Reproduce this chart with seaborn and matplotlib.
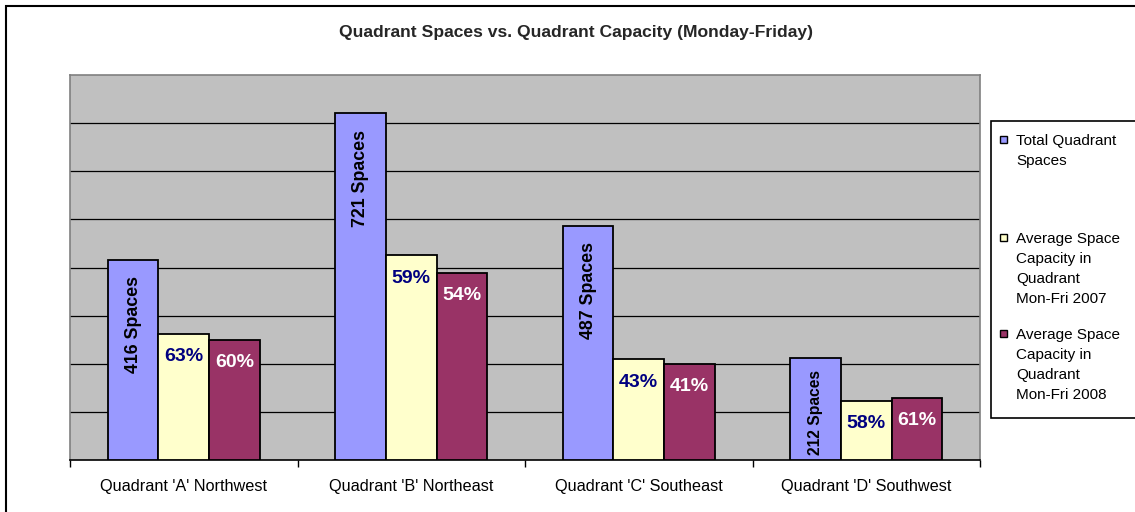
import numpy as np
import pandas as pd
import matplotlib.pyplot as plt
import seaborn as sns
from matplotlib.patches import Rectangle

sns.set_theme(style="white")
plt.rcParams["font.family"] = ["Liberation Sans", "DejaVu Sans"]

# -----------------------------
# Data
# -----------------------------
quadrants = ["Quadrant 'A' Northwest", "Quadrant 'B' Northeast",
             "Quadrant 'C' Southeast", "Quadrant 'D' Southwest"]
series = ["Total Quadrant Spaces",
          "Average Space Capacity in Quadrant Mon-Fri 2007",
          "Average Space Capacity in Quadrant Mon-Fri 2008"]
legend_labels = ["Total Quadrant\nSpaces",
                 "Average Space\nCapacity in\nQuadrant\nMon-Fri 2007",
                 "Average Space\nCapacity in\nQuadrant\nMon-Fri 2008"]
total_spaces = [416, 721, 487, 212]
used_2007 = [262, 425, 209, 123]
used_2008 = [250, 389, 200, 129]
pct_2007 = ["63%", "59%", "43%", "58%"]
pct_2008 = ["60%", "54%", "41%", "61%"]

colors = ["#9999FF", "#FFFFCC", "#993366"]

df = pd.DataFrame({
    "Quadrant": quadrants * 3,
    "Series": np.repeat(series, len(quadrants)),
    "Value": total_spaces + used_2007 + used_2008,
})

W, H = 1135, 512
fig = plt.figure(figsize=(W / 100, H / 100), dpi=100)
ax = fig.add_axes([70 / W, 1 - 460 / H, 910 / W, 385 / H])

sns.barplot(data=df, x="Quadrant", y="Value", hue="Series", order=quadrants,
            hue_order=series, palette=colors, saturation=1, width=0.667,
            errorbar=None, edgecolor="black", linewidth=1.3, legend=False,
            ax=ax, zorder=3)

ax.set_facecolor("#C0C0C0")
ax.set_ylim(0, 800)
ax.set_xlim(-0.5, 3.5)
ax.set_yticks(np.arange(100, 800, 100))
ax.set_yticklabels([])
ax.tick_params(axis="y", length=0)
ax.yaxis.grid(True, color="black", lw=0.9, zorder=0)
ax.xaxis.grid(False)
ax.set_axisbelow(True)
ax.set_xlabel("")
ax.set_ylabel("")

ax.set_xticks(range(4))
ax.set_xticklabels(quadrants, fontsize=11.7, color="black")
ax.set_xticks(np.arange(-0.5, 4, 1), minor=True)
ax.tick_params(axis="x", which="major", length=0, pad=14)
ax.tick_params(axis="x", which="minor", length=5, width=1, color="black",
               direction="out", bottom=True)

for side in ["left", "top", "right"]:
    ax.spines[side].set_color("#808080")
    ax.spines[side].set_linewidth(1.2)
ax.spines["bottom"].set_color("black")
ax.spines["bottom"].set_linewidth(1.2)

# bar labels; a label too long for its bar is shrunk to fit inside
px_per_unit = 385 / 800
for bar, txt in zip(ax.containers[0], total_spaces):
    x = bar.get_x() + bar.get_width() / 2
    bar_px = bar.get_height() * px_per_unit
    fs = min(12.8, (bar_px - 16) / 7.66)
    off = 12 if fs >= 12.8 else 8.6
    ax.annotate(f"{txt} Spaces", (x, bar.get_height()), xytext=(0, -off),
                textcoords="offset points", rotation=90, ha="center", va="top",
                fontsize=fs, fontweight="bold", color="black", zorder=5)
for cont, labels, col in [(ax.containers[1], pct_2007, "#000080"),
                          (ax.containers[2], pct_2008, "white")]:
    for bar, txt in zip(cont, labels):
        x = bar.get_x() + bar.get_width() / 2
        ax.annotate(txt, (x, bar.get_height()), xytext=(0, -16.5),
                    textcoords="offset points", ha="center", va="center",
                    fontsize=14, fontweight="bold", color=col, zorder=5)

# title
fig.text(576 / W, 1 - 32 / H, "Quadrant Spaces vs. Quadrant Capacity (Monday-Friday)",
         ha="center", va="center", fontsize=12.6, fontweight="bold")

# chart border
fig.patches.append(Rectangle((6 / W, -0.1), 1.2, (H - 6) / H + 0.1,
                             transform=fig.transFigure, fill=False,
                             edgecolor="black", lw=1.5))

# legend box drawn by hand to match the spacing
fig.patches.append(Rectangle((991 / W, 1 - 418 / H), 200 / W, (418 - 121) / H,
                             transform=fig.transFigure, facecolor="white",
                             edgecolor="black", lw=1.2))
entry_tops = [145, 243, 339]
for label, col, base in zip(legend_labels, colors, entry_tops):
    fig.patches.append(Rectangle((1000 / W, 1 - (base - 2) / H), 7 / W, 7 / H,
                                 transform=fig.transFigure, facecolor=col,
                                 edgecolor="black", lw=1))
    for i, line in enumerate(label.split("\n")):
        fig.text(1016 / W, 1 - (base + i * 20) / H, line, ha="left",
                 va="baseline", fontsize=11, color="black")

fig.savefig("out.png", dpi=100)
